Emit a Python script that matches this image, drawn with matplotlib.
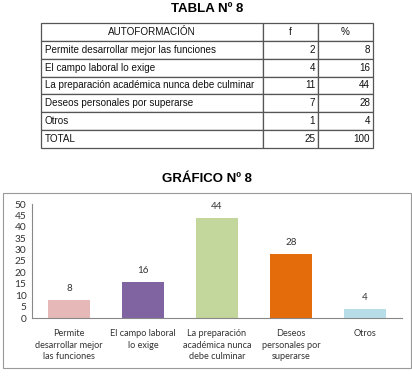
import matplotlib.pyplot as plt
from matplotlib.patches import Rectangle

# Data
categorias = ["Permite desarrollar mejor las funciones", "El campo laboral lo exige",
              "La preparación académica nunca debe culminar", "Deseos personales por superarse", "Otros"]
frecuencia = [2, 4, 11, 7, 1]
porcentaje = [8, 16, 44, 28, 4]
etiquetas = ["Permite\ndesarrollar mejor\nlas funciones", "El campo laboral\nlo exige",
             "La preparación\nacadémica nunca\ndebe culminar", "Deseos\npersonales por\nsuperarse", "Otros"]
colores = ["#E6B9B8", "#8064A2", "#C3D69B", "#E46C0A", "#B7DEE8"]

W, H = 412, 377
fig = plt.figure(figsize=(W / 100, H / 100), dpi=100)

def box(x0, y0, x1, y1):
    # pixel box -> figure fraction
    return [x0 / W, 1 - y1 / H, (x1 - x0) / W, (y1 - y0) / H]

# Table title
fig.text(207 / W, 1 - 9 / H, "TABLA Nº 8", ha="center", va="center",
         fontsize=9.5, fontweight="bold", family="Liberation Sans")

# Table
tax = fig.add_axes(box(41, 23, 373, 148))
tax.axis("off")
filas = [["AUTOFORMACIÓN", "f", "%"]]
for c, f, p in zip(categorias, frecuencia, porcentaje):
    filas.append([c, str(f), str(p)])
filas.append(["TOTAL", str(sum(frecuencia)), str(sum(porcentaje))])
tabla = tax.table(cellText=filas, bbox=[0, 0, 1, 1], colWidths=[222, 55, 55])
tabla.auto_set_font_size(False)
for (r, c), cell in tabla.get_celld().items():
    cell.set_edgecolor("#555555")
    cell.set_linewidth(0.9)
    t = cell.get_text()
    t.set_fontsize(7.1)
    t.set_family("Liberation Sans")
    t.set_color("#111111")
    if r == 0:
        loc = "center"
    elif c == 0:
        loc = "left"
        cell.PAD = 0.018
    else:
        loc = "right"
        cell.PAD = 0.05
    cell._loc = loc
    t.set_ha(loc)

# Chart title
fig.text(207 / W, 1 - 179 / H, "GRÁFICO Nº 8", ha="center", va="center",
         fontsize=9.5, fontweight="bold", family="Liberation Sans")

# Chart border
fig.patches.append(Rectangle((3 / W, 1 - 368 / H), 408 / W, 175 / H, transform=fig.transFigure,
                             fill=False, edgecolor="#999999", linewidth=0.8))

ax = fig.add_axes(box(32, 204, 402, 318))
x = range(len(porcentaje))
bars = ax.bar(x, porcentaje, width=0.58, color=colores)
for xi, v in zip(x, porcentaje):
    ax.text(xi, v + 3, str(v), ha="center", va="bottom", fontsize=7, family="Lato", color="#333333")
ax.set_ylim(0, 50)
ax.set_xlim(-0.5, 4.5)
ax.set_yticks(range(0, 51, 5))
ax.set_xticks(list(x))
ax.set_xticklabels(etiquetas, fontsize=6.6, family="Lato", color="#333333", linespacing=1.35)
for lab in ax.get_yticklabels():
    lab.set_fontsize(7.3)
    lab.set_family("Lato")
    lab.set_color("#333333")
ax.tick_params(axis="both", length=0, pad=4)
ax.tick_params(axis="x", pad=8)
for s in ["top", "right"]:
    ax.spines[s].set_visible(False)
ax.spines["left"].set_color("#888888")
ax.spines["bottom"].set_color("#888888")
ax.spines["left"].set_linewidth(0.8)
ax.spines["bottom"].set_linewidth(0.8)

fig.savefig("out.png", dpi=100)
